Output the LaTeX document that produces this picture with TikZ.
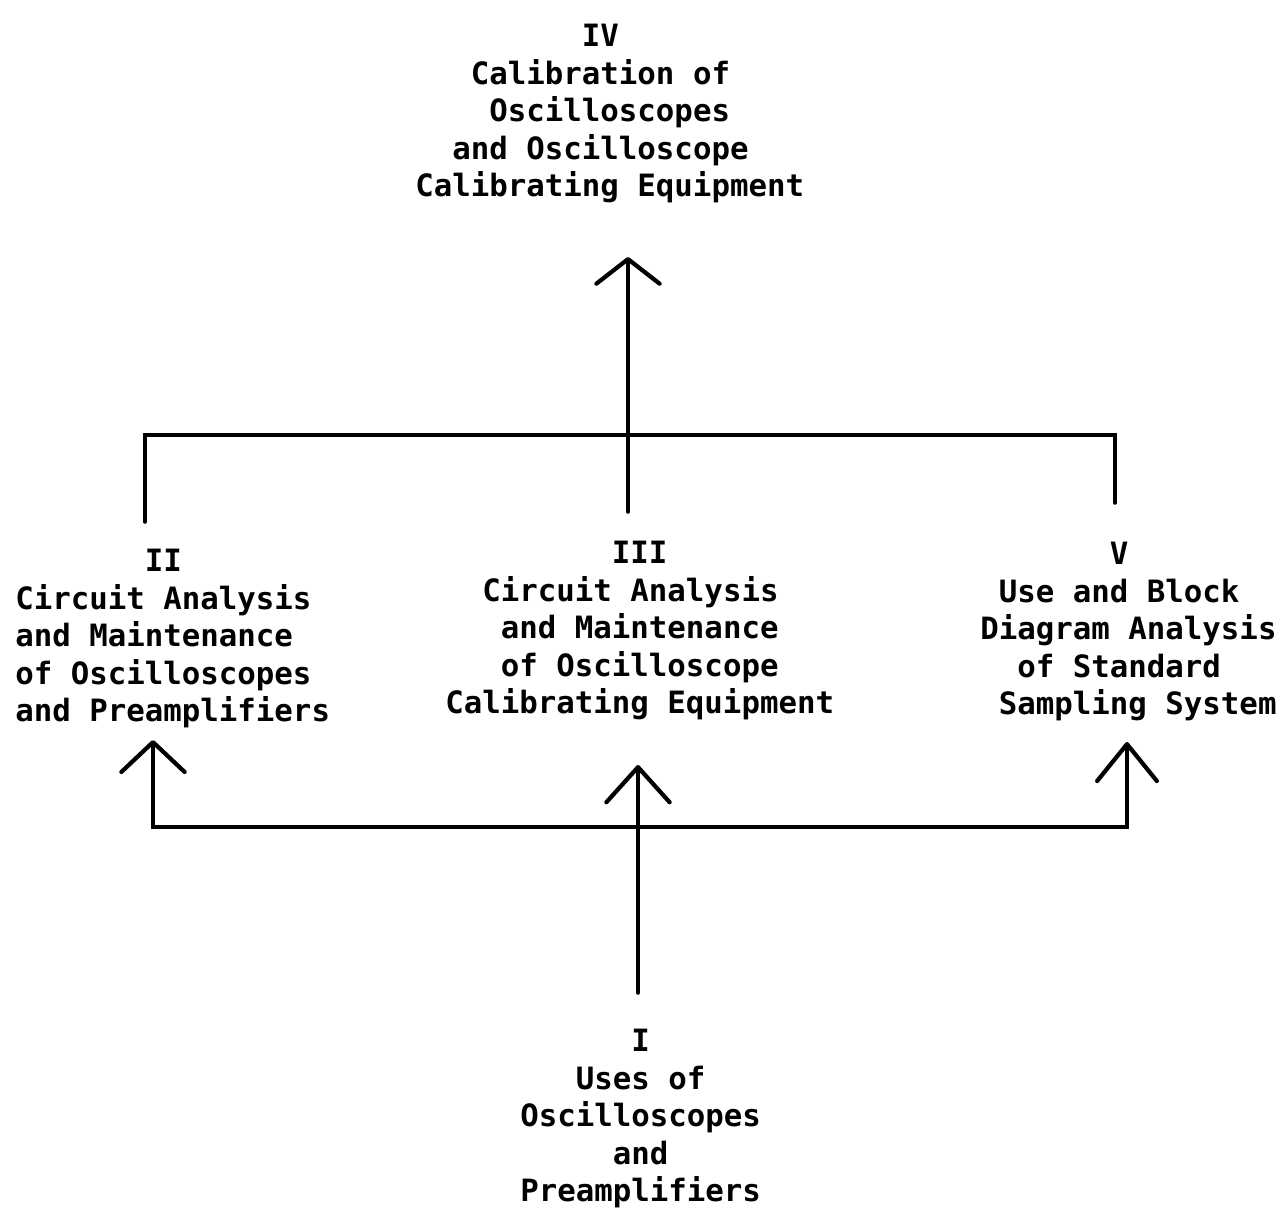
\documentclass[tikz,border=0pt]{standalone}
\usepackage{fontspec}
\newfontfamily\typew{DejaVu Sans Mono}
\usetikzlibrary{arrows.meta}
\begin{document}
\begin{tikzpicture}[x=0.02cm,y=-0.02cm,
  blk/.style={inner sep=0pt, align=left, anchor=north west,
    font=\fontsize{17.5}{21.3}\selectfont\typew\bfseries},
  ln/.style={line width=2pt, line cap=round},
  arr/.style={-{Straight Barb[length=#1,width=36pt,line width=2.4pt,round]}}]
\path[use as bounding box] (0,0) rectangle (1285,1215);

% text blocks
\node[blk] (IV) at (415,24) {\hphantom{000000000}IV\\\hphantom{000}Calibration of\\\hphantom{0000}Oscilloscopes\\\hphantom{00}and Oscilloscope\\Calibrating Equipment};
\node[blk] (II) at (15,549) {\hphantom{0000000}II\\Circuit Analysis\\and Maintenance\\of Oscilloscopes\\and Preamplifiers};
\node[blk] (III) at (445,541) {\hphantom{000000000}III\\\hphantom{00}Circuit Analysis\\\hphantom{000}and Maintenance\\\hphantom{000}of Oscilloscope\\Calibrating Equipment};
\node[blk] (V) at (980,542) {\hphantom{0000000}V\\\hphantom{0}Use and Block\\Diagram Analysis\\\hphantom{00}of Standard\\\hphantom{0}Sampling System};
\node[blk] (I) at (520,1029) {\hphantom{000000}I\\\hphantom{000}Uses of\\Oscilloscopes\\\hphantom{00000}and\\Preamplifiers};

% junction points and arrow tips
\coordinate (dl) at (145,522);
\coordinate (tl) at (145,435);
\coordinate (tr) at (1115,435);
\coordinate (dr) at (1115,503);
\coordinate (dm) at (628,512);
\coordinate (tipIV) at (628,257);

\coordinate (tipII) at (153,740);
\coordinate (bl) at (153,827);
\coordinate (br) at (1127,827);
\coordinate (tipV) at (1127,742);
\coordinate (mb) at (638,993);
\coordinate (tipIII) at (638,765);

% upper bus to IV
\draw[ln] (dl) -- (tl) -- (tr) -- (dr);
\draw[ln,arr=14pt] (dm) -- (tipIV);

% lower bus from I to II, III, V
\draw[ln,{Straight Barb[length=17pt,width=36pt,line width=2.4pt,round]}-{Straight Barb[length=21pt,width=34pt,line width=2.4pt,round]}] (tipII) -- (bl) -- (br) -- (tipV);
\draw[ln,arr=20pt] (mb) -- (tipIII);
\end{tikzpicture}
\end{document}
